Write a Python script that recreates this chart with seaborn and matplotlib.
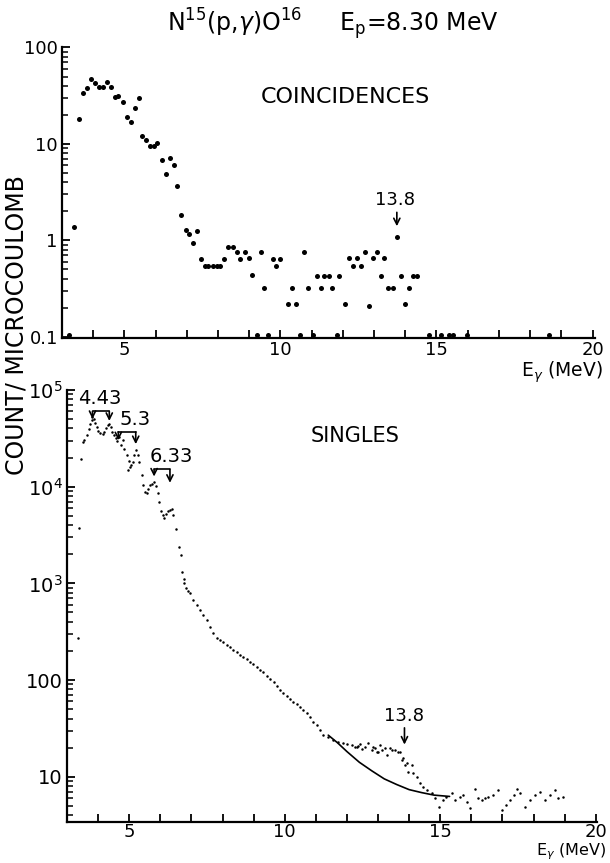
import numpy as np
import pandas as pd
import matplotlib
matplotlib.use("Agg")
import matplotlib.pyplot as plt
import seaborn as sns
from matplotlib.ticker import FixedLocator, FuncFormatter, NullFormatter

sns.set_theme(style="ticks")
plt.rcParams['font.family'] = ['DejaVu Sans']
plt.rcParams['mathtext.fontset'] = 'dejavusans'
plt.rcParams['text.color'] = 'black'
plt.rcParams['axes.labelcolor'] = 'black'
plt.rcParams['xtick.color'] = 'black'
plt.rcParams['ytick.color'] = 'black'

# ---------------- data: coincidences (counts / microcoulomb) ----------------
coinc_e = [3.22, 3.39, 3.54, 3.67, 3.80, 3.93, 4.05, 4.18, 4.30, 4.43, 4.57, 4.69,
           4.81, 4.94, 5.08, 5.20, 5.33, 5.46, 5.56, 5.69, 5.82, 5.95, 6.06, 6.19,
           6.32, 6.45, 6.58, 6.69, 6.82, 6.96, 7.08, 7.20, 7.32, 7.45, 7.57, 7.69,
           7.83, 7.96, 8.07, 8.20, 8.33, 8.48, 8.60, 8.72, 8.85, 8.99, 9.10, 9.24,
           9.38, 9.48, 9.61, 9.75, 9.87, 9.99, 10.24, 10.37, 10.51, 10.62, 10.76,
           10.89, 11.03, 11.16, 11.30, 11.40, 11.54, 11.66, 11.81, 11.88, 12.07,
           12.19, 12.31, 12.45, 12.58, 12.70, 12.85, 12.97, 13.10, 13.23, 13.33,
           13.46, 13.60, 13.73, 13.85, 13.98, 14.12, 14.25, 14.38, 14.77, 15.14,
           15.39, 15.54, 15.99, 18.61]
coinc_v = [0.105, 1.36, 18, 33.5, 38, 47, 43, 39, 39, 44, 39, 30.5,
           31.7, 27, 19.2, 16.8, 23.8, 30.2, 12.1, 10.9, 9.5, 9.5, 10.2, 6.8,
           4.9, 7.1, 6.1, 3.7, 1.81, 1.28, 1.17, 0.94, 1.26, 0.64, 0.54, 0.54,
           0.54, 0.54, 0.54, 0.64, 0.86, 0.86, 0.75, 0.64, 0.75, 0.65, 0.44, 0.105,
           0.75, 0.32, 0.105, 0.64, 0.54, 0.64, 0.216, 0.32, 0.216, 0.105, 0.76,
           0.32, 0.105, 0.425, 0.32, 0.425, 0.425, 0.32, 0.105, 0.425, 0.216,
           0.65, 0.54, 0.65, 0.54, 0.76, 0.21, 0.65, 0.76, 0.425, 0.65,
           0.32, 0.32, 1.08, 0.425, 0.22, 0.32, 0.425, 0.425, 0.105, 0.105,
           0.105, 0.105, 0.105, 0.105]

# ---------------- data: singles (counts / microcoulomb) ----------------
singles_e = [3.34, 3.39, 3.45, 3.50, 3.56, 3.63, 3.70, 3.74, 3.79, 3.81, 3.87, 3.90,
             3.95, 4.01, 4.06, 4.15, 4.20, 4.26, 4.31, 4.36, 4.41, 4.46, 4.51, 4.57,
             4.62, 4.68, 4.74, 4.79, 4.84, 4.92, 4.97, 4.98, 5.03, 5.06, 5.11, 5.15,
             5.22, 5.27, 5.32, 5.41, 5.45, 5.52, 5.56, 5.61, 5.67, 5.73, 5.81, 5.85,
             5.92, 5.97, 6.02, 6.08, 6.13, 6.18, 6.24, 6.31, 6.37, 6.42, 6.50, 6.59,
             6.66, 6.71, 6.75, 6.77, 6.83, 6.88, 6.95, 7.06, 7.17, 7.28, 7.38, 7.49,
             7.60, 7.70, 7.81, 7.91, 8.03, 8.13, 8.24, 8.35, 8.46, 8.56, 8.67, 8.78,
             8.88, 8.99, 9.10, 9.21, 9.31, 9.42, 9.53, 9.64, 9.74, 9.85, 9.96, 10.06,
             10.17, 10.28, 10.38, 10.49, 10.60, 10.71, 10.81, 10.92, 11.03, 11.14,
             11.24, 11.40, 11.56, 11.72, 11.88, 11.99, 12.15, 12.26, 12.31, 12.37,
             12.42, 12.48, 12.58, 12.69, 12.80, 12.85, 12.90, 12.96, 13.01, 13.06,
             13.12, 13.22, 13.28, 13.38, 13.44, 13.54, 13.65, 13.70, 13.76, 13.81,
             13.87, 13.92, 13.97, 14.08, 14.13, 14.24, 14.35, 14.46, 14.56, 14.73,
             14.83, 14.97, 15.10, 15.20, 15.37, 15.47, 15.63, 15.74, 15.85, 15.96,
             16.12, 16.23, 16.33, 16.44, 16.55, 16.71, 16.87, 16.98, 17.12, 17.25,
             17.36, 17.47, 17.57, 17.73, 17.89, 18.05, 18.21, 18.38, 18.54, 18.70,
             18.80, 18.94]
singles_v = [275, 3700, 19500, 28800, 30200, 33900, 39800, 44200, 48600, 52500, 50100, 45700,
             41700, 38000, 35500, 34700, 37200, 40700, 43200, 44700, 41700, 37200, 33900, 31600,
             29500, 32700, 26900, 30200, 24500, 21100, 14800, 18600, 16000, 16600, 18200, 21100,
             24000, 21400, 18000, 13200, 10400, 8900, 8500, 9550, 10400, 10700, 11200, 10100,
             8700, 6900, 5600, 5070, 4790, 5250, 5560, 5710, 5890, 5070, 3630, 2390,
             1950, 1320, 1120, 1000, 900, 830, 795, 676, 596, 525, 468, 417,
             355, 309, 275, 259, 245, 229, 219, 204, 195, 182, 172, 164,
             155, 146, 135, 127, 120, 110, 102, 94.6, 87, 79.4, 73.1, 67.6,
             63.1, 59.8, 56.2, 53.1, 49, 45.4, 41.7, 37.2, 34.4, 30.5,
             27.1, 26, 24, 23.1, 22.5, 21.9, 21.4, 20.2, 20.5, 20.9,
             21.9, 19.3, 20.5, 22.2, 19.0, 20.5, 19.7, 18.2, 17.8, 21.4,
             19.0, 19.7, 16.8, 19.7, 19.0, 19.0, 18.2, 18.2, 15.0, 15.5,
             13.3, 13.8, 11.3, 13.3, 10.9, 10.0, 8.7, 7.9, 7.3, 6.8,
             6.0, 4.9, 5.75, 6.2, 6.8, 5.75, 6.2, 6.5, 5.5, 4.75,
             7.45, 6.0, 5.75, 6.0, 6.2, 6.5, 7.2, 4.55, 5.1, 5.75,
             6.5, 7.4, 6.8, 4.9, 5.7, 6.5, 6.9, 5.75, 6.5, 7.3,
             6.0, 6.2]

# background curve under the 13.8 MeV bump
bkg_e = [11.40, 11.70, 12.00, 12.40, 12.80, 13.20, 13.60, 14.00, 14.40, 14.80, 15.30]
bkg_v = [26.9, 22.4, 18.2, 14.1, 11.5, 9.5, 8.3, 7.35, 6.85, 6.45, 6.25]

top_yticks = [0.1, 1, 10, 100]
top_yticklabels = ["0.1", "1", "10", "100"]
bot_yticks = [10, 100, 1e3, 1e4, 1e5]
bot_yticklabels = ["10", "100", r"$10^3$", r"$10^4$", r"$10^5$"]
x_major = list(range(3, 21))
x_labelled = [5, 10, 15, 20]

df_c = pd.DataFrame({"E": coinc_e, "N": coinc_v})
df_s = pd.DataFrame({"E": singles_e, "N": singles_v})
df_b = pd.DataFrame({"E": bkg_e, "N": bkg_v})

W, H = 610, 863
fig = plt.figure(figsize=(W / 100, H / 100), dpi=100)
fig.patch.set_facecolor("white")
ax1 = fig.add_axes([62 / W, 1 - 338 / H, (595 - 62) / W, (338 - 47.5) / H])
ax2 = fig.add_axes([67 / W, 1 - 822 / H, (597 - 67) / W, (822 - 390) / H])

sns.scatterplot(data=df_c, x="E", y="N", ax=ax1, color="black", s=13,
                linewidth=0, edgecolor=None, legend=False)
sns.scatterplot(data=df_s, x="E", y="N", ax=ax2, color="black", s=3.2,
                linewidth=0, edgecolor=None, legend=False)
sns.lineplot(data=df_b, x="E", y="N", ax=ax2, color="black", lw=1.2,
             sort=False, estimator=None, legend=False)


def xfmt(v, pos):
    iv = int(round(v))
    return str(iv) if iv in x_labelled else ""


for ax, lim in ((ax1, (0.097, 100)), (ax2, (3.4, 1e5))):
    ax.set_yscale("log")
    ax.set_ylim(*lim)
    ax.set_facecolor("white")
    ax.grid(False)
    for side in ("top", "right"):
        ax.spines[side].set_visible(False)
    for side in ("left", "bottom"):
        ax.spines[side].set_linewidth(1.6)
        ax.spines[side].set_color("black")
    ax.xaxis.set_major_locator(FixedLocator(x_major))
    ax.xaxis.set_major_formatter(FuncFormatter(xfmt))
    ax.xaxis.set_minor_locator(FixedLocator([]))
    ax.tick_params(axis="both", which="major", direction="in", length=6,
                   width=1.3, colors="black", labelsize=13, pad=3)
    ax.tick_params(axis="x", which="major", pad=2)
    ax.tick_params(axis="y", which="minor", direction="in", length=4.5,
                   width=1.1, colors="black")
    ax.set_xlabel("")
    ax.set_ylabel("")

ax2.tick_params(axis="x", which="major", pad=1)

ax1.set_xlim(3.0, 20.08)
ax2.set_xlim(3.0, 20.04)

ax1.yaxis.set_major_locator(FixedLocator(top_yticks))
ax1.set_yticklabels(top_yticklabels)
ax1.yaxis.set_minor_locator(FixedLocator(
    [m * d for d in (0.1, 1, 10) for m in range(2, 10)]))
ax1.yaxis.set_minor_formatter(NullFormatter())

ax2.yaxis.set_major_locator(FixedLocator(bot_yticks))
ax2.set_yticklabels(bot_yticklabels)
ax2.yaxis.set_minor_locator(FixedLocator(
    [m * d for d in (1, 10, 100, 1e3, 1e4) for m in range(2, 10) if m * d > 3.4]))
ax2.yaxis.set_minor_formatter(NullFormatter())
for lab in ax2.get_yticklabels():
    lab.set_fontsize(14)

# titles / texts
fig.text(333 / W, 1 - 24 / H, r"N$^{15}$(p,$\gamma$)O$^{16}$     E$_{\rm p}$=8.30 MeV",
         ha="center", va="center", fontsize=17)
ax1.text(12.07, 30.5, "COINCIDENCES", ha="center", va="center", fontsize=16)
ax2.text(12.26, 10 ** 4.52, "SINGLES", ha="center", va="center", fontsize=15)
fig.text(17 / W, 1 - 325 / H, "COUNT/ MICROCOULOMB", rotation=90,
         ha="center", va="center", fontsize=17)
fig.text(603 / W, 1 - 359 / H, r"E$_\gamma$ (MeV)", ha="right", va="top", fontsize=13.5)
fig.text(606 / W, 1 - 841 / H, r"E$_\gamma$ (MeV)", ha="right", va="top", fontsize=11.5)

arrow_kw = dict(arrowstyle="->", lw=1.2, color="black", mutation_scale=11,
                shrinkA=0, shrinkB=0)

# 13.8 in coincidences
ax1.text(13.67, 2.63, "13.8", ha="center", va="center", fontsize=13)
ax1.annotate("", xy=(13.73, 1.4), xytext=(13.73, 1.95), arrowprops=arrow_kw)

# 13.8 in singles
ax2.text(13.85, 42, "13.8", ha="center", va="center", fontsize=13)
ax2.annotate("", xy=(13.85, 21.5), xytext=(13.85, 32), arrowprops=arrow_kw)

# bracket arrows for gamma lines
brackets = [
    ("4.43", 3.82, 4.36, 4.78, 4.70, 4.68, 4.06, 4.91),
    ("5.3", 4.65, 5.21, 4.566, 4.48, 4.44, 5.19, 4.69),
    ("6.33", 5.80, 6.31, 4.178, 4.105, 4.04, 6.34, 4.315),
]
for lab, xl, xr, yh, ytl, ytr, xt, yt in brackets:
    ax2.plot([xl, xr], [10 ** yh, 10 ** yh], color="black", lw=1.2)
    ax2.annotate("", xy=(xl, 10 ** ytl), xytext=(xl, 10 ** yh), arrowprops=arrow_kw)
    ax2.annotate("", xy=(xr, 10 ** ytr), xytext=(xr, 10 ** yh), arrowprops=arrow_kw)
    ax2.text(xt, 10 ** yt, lab, ha="center", va="center", fontsize=14)

fig.savefig("out.png", dpi=100)
